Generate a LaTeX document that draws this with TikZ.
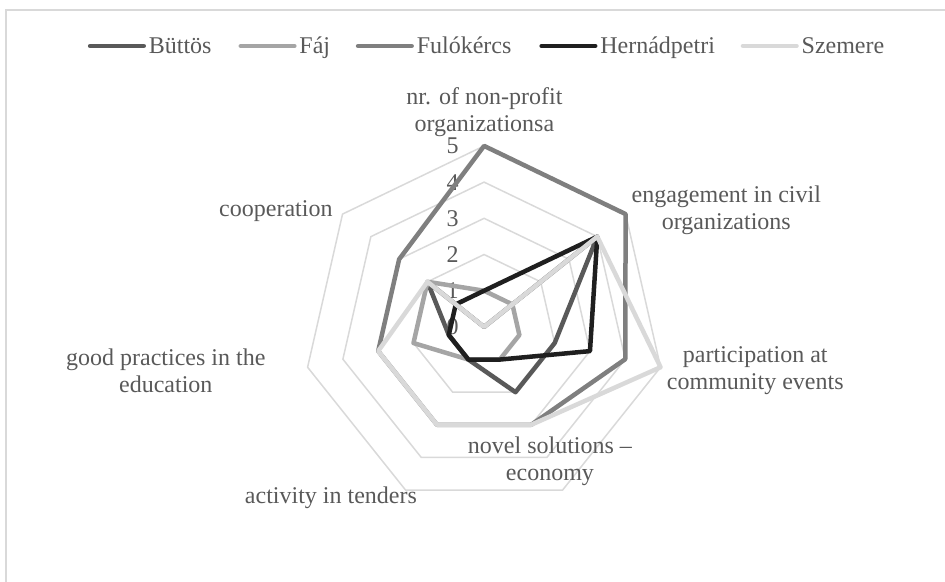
\documentclass[tikz,border=0pt]{standalone}
\usepackage{fontspec}
\setmainfont{Liberation Serif}

\definecolor{labelgray}{HTML}{595959}
\definecolor{ringgray}{HTML}{D9D9D9}
\definecolor{buttoscol}{HTML}{595959}
\definecolor{fajcol}{HTML}{A5A5A5}
\definecolor{fulocol}{HTML}{7F7F7F}
\definecolor{hernadcol}{HTML}{1F1F1F}
\definecolor{szemcol}{HTML}{D9D9D9}

\tikzset{
	ring/.style={draw=ringgray, line width=0.75pt},
	series/.style={line width=2.25pt, line join=round},
	keyline/.style={line width=2.25pt, line cap=round},
	keytext/.style={anchor=base west, inner sep=0pt, text=labelgray, font=\fontsize{12}{13.5}\selectfont},
	axislabel/.style={align=center, inner sep=0pt, text=labelgray, font=\fontsize{12}{13.5}\selectfont},
	tick/.style={anchor=east, inner sep=0pt, text=labelgray, font=\fontsize{12}{13}\selectfont}
}

\begin{document}
\begin{tikzpicture}[x=18.1pt,y=18.1pt]

		\useasboundingbox (-13.37,-7.04) rectangle (12.73,9.03);
		\draw[ringgray, line width=0.75pt] (-13.2,8.76) rectangle (13.6,-7.6);

		% grid rings
		\draw[ring] (90:1) -- (38.57:1) -- (-12.86:1) -- (-64.29:1) -- (-115.71:1) -- (-167.14:1) -- (141.43:1) -- cycle;
		\draw[ring] (90:2) -- (38.57:2) -- (-12.86:2) -- (-64.29:2) -- (-115.71:2) -- (-167.14:2) -- (141.43:2) -- cycle;
		\draw[ring] (90:3) -- (38.57:3) -- (-12.86:3) -- (-64.29:3) -- (-115.71:3) -- (-167.14:3) -- (141.43:3) -- cycle;
		\draw[ring] (90:4) -- (38.57:4) -- (-12.86:4) -- (-64.29:4) -- (-115.71:4) -- (-167.14:4) -- (141.43:4) -- cycle;
		\draw[ring] (90:5) -- (38.57:5) -- (-12.86:5) -- (-64.29:5) -- (-115.71:5) -- (-167.14:5) -- (141.43:5) -- cycle;

		\node[tick](tick0) at (-0.69,0){0};
		\node[tick](tick1) at (-0.69,1){1};
		\node[tick](tick2) at (-0.69,2){2};
		\node[tick](tick3) at (-0.69,3){3};
		\node[tick](tick4) at (-0.69,4){4};
		\node[tick](tick5) at (-0.69,5){5};

		% series
		\draw[series, buttoscol] (90:0) -- (38.57:4) -- (-12.86:2) -- (-64.29:2) -- (-115.71:1) -- (-167.14:1) -- (141.43:2) -- cycle;
		\draw[series, fajcol] (90:1) -- (38.57:1) -- (-12.86:1) -- (-64.29:1) -- (-115.71:1) -- (-167.14:2) -- (141.43:2) -- cycle;
		\draw[series, fulocol] (90:5) -- (38.57:5) -- (-12.86:4) -- (-64.29:3) -- (-115.71:3) -- (-167.14:3) -- (141.43:3) -- cycle;
		\draw[series, hernadcol] (90:1) -- (38.57:4) -- (-12.86:3) -- (-64.29:1) -- (-115.71:1) -- (-167.14:1) -- (141.43:1) -- cycle;
		\draw[series, szemcol] (90:0) -- (38.57:4) -- (-12.86:5) -- (-64.29:3) -- (-115.71:3) -- (-167.14:3) -- (141.43:2) -- cycle;

		\node[axislabel](labNonprofit) at (0.01,5.94){nr. of non-profit\\organizationsa};
		\node[axislabel](labEngage) at (6.69,3.22){engagement in civil\\organizations};
		\node[axislabel](labPartic) at (7.49,-1.20){participation at\\community events};
		\node[axislabel](labNovel) at (1.82,-3.72){novel solutions --\\economy};
		\node[axislabel](labTender) at (-4.23,-4.72){activity in tenders};
		\node[axislabel](labPractice) at (-8.79,-1.22){good practices in the\\education};
		\node[axislabel](labCoop) at (-5.75,3.20){cooperation};

		% legend
		\coordinate (keyButtosA) at (-10.88,7.76);
		\coordinate (keyButtosB) at (-9.40,7.76);
		\coordinate (keyFajA) at (-6.72,7.76);
		\coordinate (keyFajB) at (-5.24,7.76);
		\coordinate (keyFuloA) at (-3.48,7.76);
		\coordinate (keyFuloB) at (-2.00,7.76);
		\coordinate (keyHernadA) at (1.59,7.76);
		\coordinate (keyHernadB) at (3.07,7.76);
		\coordinate (keySzemA) at (7.15,7.76);
		\coordinate (keySzemB) at (8.63,7.76);

		\draw[keyline, buttoscol] (keyButtosA) -- (keyButtosB);
		\draw[keyline, fajcol] (keyFajA) -- (keyFajB);
		\draw[keyline, fulocol] (keyFuloA) -- (keyFuloB);
		\draw[keyline, hernadcol] (keyHernadA) -- (keyHernadB);
		\draw[keyline, szemcol] (keySzemA) -- (keySzemB);

		\node[keytext](keyButtos) at (-9.27,7.54){Büttös};
		\node[keytext](keyFaj) at (-5.11,7.54){Fáj};
		\node[keytext](keyFulo) at (-1.87,7.54){Fulókércs};
		\node[keytext](keyHernad) at (3.20,7.54){Hernádpetri};
		\node[keytext](keySzem) at (8.76,7.54){Szemere};
	\end{tikzpicture}
\end{document}
